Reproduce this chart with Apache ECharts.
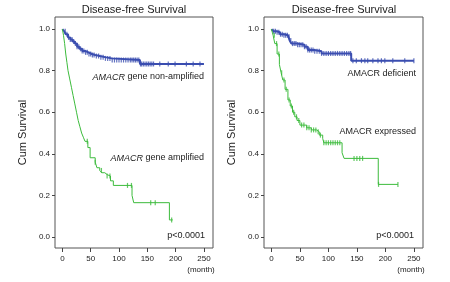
<!DOCTYPE html>
<html>
<head>
<meta charset="utf-8">
<script src="https://cdn.jsdelivr.net/npm/echarts@6/dist/echarts.min.js"></script>
<style>
  html, body { margin: 0; padding: 0; background: #fff; }
  #chart { width: 450px; height: 282px; }
</style>
</head>
<body>
<div id="chart"></div>
<script>
  /* tick labels */
  var xTicks = [0, 50, 100, 150, 200, 250];
  var yTicks = [0, 0.2, 0.4, 0.6, 0.8, 1.0];

  /* left panel: gene status, [month, cum survival] */
  var nonAmplified = [[0,1.0],[3,0.99],[6,0.975],[10,0.96],[14,0.95],[18,0.94],[22,0.93],[26,0.915],[30,0.905],[35,0.895],[40,0.888],[46,0.88],[52,0.875],[58,0.87],[66,0.865],[75,0.859],[87,0.851],[137,0.832],[250,0.832]];
  var nonAmplifiedCensor = [5,8,11,14,17,20,23,26,29,32,35,38,41,44,47,50,53,56,60,64,68,72,76,80,84,88,92,96,100,104,108,112,116,120,123,126,129,132,135,138,140,143,146,149,152,155,158,161,172,187,199,219,231,243];
  var amplified = [[0,1.0],[2,0.97],[4,0.93],[6,0.88],[8,0.84],[10,0.80],[13,0.76],[16,0.72],[19,0.68],[22,0.64],[25,0.60],[28,0.56],[31,0.53],[34,0.50],[37,0.48],[40,0.46],[45,0.43],[49,0.381],[58,0.36],[61,0.333],[66,0.32],[69.5,0.309],[75,0.30],[79,0.293],[85,0.27],[90,0.248],[123,0.2],[126,0.165],[189,0.082],[195,0.082]];
  var amplifiedCensor = [44,58,69,79,84,115,122,156,164,193];

  /* right panel: protein expression */
  var deficient = [[0,1.0],[3,0.99],[8,0.985],[15,0.975],[22,0.97],[29,0.963],[32,0.945],[35,0.93],[45,0.925],[58,0.915],[64,0.899],[75,0.893],[88,0.883],[140,0.848],[250,0.848]];
  var deficientCensor = [4,7,10,13,16,19,22,25,28,31,34,37,40,43,46,49,52,55,58,61,64,67,70,73,76,80,84,88,92,96,100,104,108,112,116,120,124,128,132,136,139,143,149,158,164,169,178,187,193,199,213,234,250];
  var expressed = [[0,1.0],[3,0.97],[6,0.93],[10,0.88],[14,0.83],[17,0.79],[20,0.755],[24,0.71],[29,0.659],[33,0.63],[37,0.60],[41,0.578],[45,0.56],[50,0.538],[62,0.525],[70,0.515],[79,0.506],[84,0.49],[90,0.474],[92,0.453],[124,0.405],[127.5,0.378],[187.5,0.253],[222,0.253]];
  var expressedCensor = [5,9,13,18,22,26,31,35,39,44,48,53,57,62,66,70,74,78,82,86,92,96,100,104,108,112,116,120,145,150,155,160,188,222];

  var blue = '#3a4db0';
  var green = '#3cbb3c';
  var font = 'Liberation Sans, Arial, sans-serif';

  // survival value at time t on a step curve
  function survAt(curve, t) {
    var s = curve[0][1];
    for (var i = 0; i < curve.length; i++) {
      if (curve[i][0] <= t) s = curve[i][1];
    }
    return s;
  }
  function censorPts(curve, times) {
    return times.map(function (t) { return [t, survAt(curve, t)]; });
  }

  function makeX(idx) {
    return {
      type: 'value', gridIndex: idx, min: -13, max: 266,
      axisLine: { show: false, onZero: false },
      splitLine: { show: false },
      axisTick: { show: true, customValues: xTicks, length: 4, lineStyle: { color: '#444' } },
      axisLabel: { customValues: xTicks, margin: 7, fontSize: 8, color: '#222', fontFamily: font }
    };
  }
  function makeY(idx) {
    return {
      type: 'value', gridIndex: idx, min: -0.053, max: 1.058,
      name: 'Cum Survival', nameLocation: 'middle', nameGap: 27,
      nameTextStyle: { fontSize: 11, color: '#222', fontFamily: font },
      axisLine: { show: false, onZero: false },
      splitLine: { show: false },
      axisTick: { show: true, customValues: yTicks, length: 3, lineStyle: { color: '#444' } },
      axisLabel: { customValues: yTicks, margin: 5, fontSize: 8, color: '#222', fontFamily: font,
        formatter: function (v) { return v.toFixed(1); } }
    };
  }
  function curve(idx, data, color, width) {
    return { type: 'line', xAxisIndex: idx, yAxisIndex: idx, step: 'end', data: data,
      showSymbol: false, silent: true, lineStyle: { color: color, width: width } };
  }
  function marks(idx, data, color) {
    return { type: 'scatter', xAxisIndex: idx, yAxisIndex: idx, data: data,
      symbol: 'rect', symbolSize: [1.2, 5], silent: true, itemStyle: { color: color } };
  }
  function label(x, y, text, align, size) {
    return { type: 'text', x: x, y: y, style: {
      text: text, fill: '#222', font: (size || 9) + 'px ' + font, align: align || 'right', verticalAlign: 'middle',
      rich: { i: { fontStyle: 'italic', fontSize: size || 9, fontFamily: font, fill: '#222' } } } };
  }

  var chart = echarts.init(document.getElementById('chart'));
  chart.setOption({
    animation: false,
    grid: [
      { left: 55, right: 237, top: 17, bottom: 34, show: true, borderColor: '#555', borderWidth: 1 },
      { left: 264, right: 27, top: 17, bottom: 34, show: true, borderColor: '#555', borderWidth: 1 }
    ],
    xAxis: [makeX(0), makeX(1)],
    yAxis: [makeY(0), makeY(1)],
    series: [
      curve(0, nonAmplified, blue, 2),
      marks(0, censorPts(nonAmplified, nonAmplifiedCensor), blue),
      curve(0, amplified, green, 1),
      marks(0, censorPts(amplified, amplifiedCensor), green),
      curve(1, deficient, blue, 2),
      marks(1, censorPts(deficient, deficientCensor), blue),
      curve(1, expressed, green, 1),
      marks(1, censorPts(expressed, expressedCensor), green)
    ],
    graphic: [
      label(134, 10, 'Disease-free Survival', 'center', 11),
      label(344, 10, 'Disease-free Survival', 'center', 11),
      label(204, 77, '{i|AMACR} gene non-amplified'),
      label(204, 158, '{i|AMACR} gene amplified'),
      label(205, 236, 'p<0.0001'),
      label(416, 74, 'AMACR deficient'),
      label(416, 132, 'AMACR expressed'),
      label(414, 236, 'p<0.0001'),
      label(201, 270, '(month)', 'center', 8),
      label(411, 270, '(month)', 'center', 8)
    ]
  });
</script>
</body>
</html>
